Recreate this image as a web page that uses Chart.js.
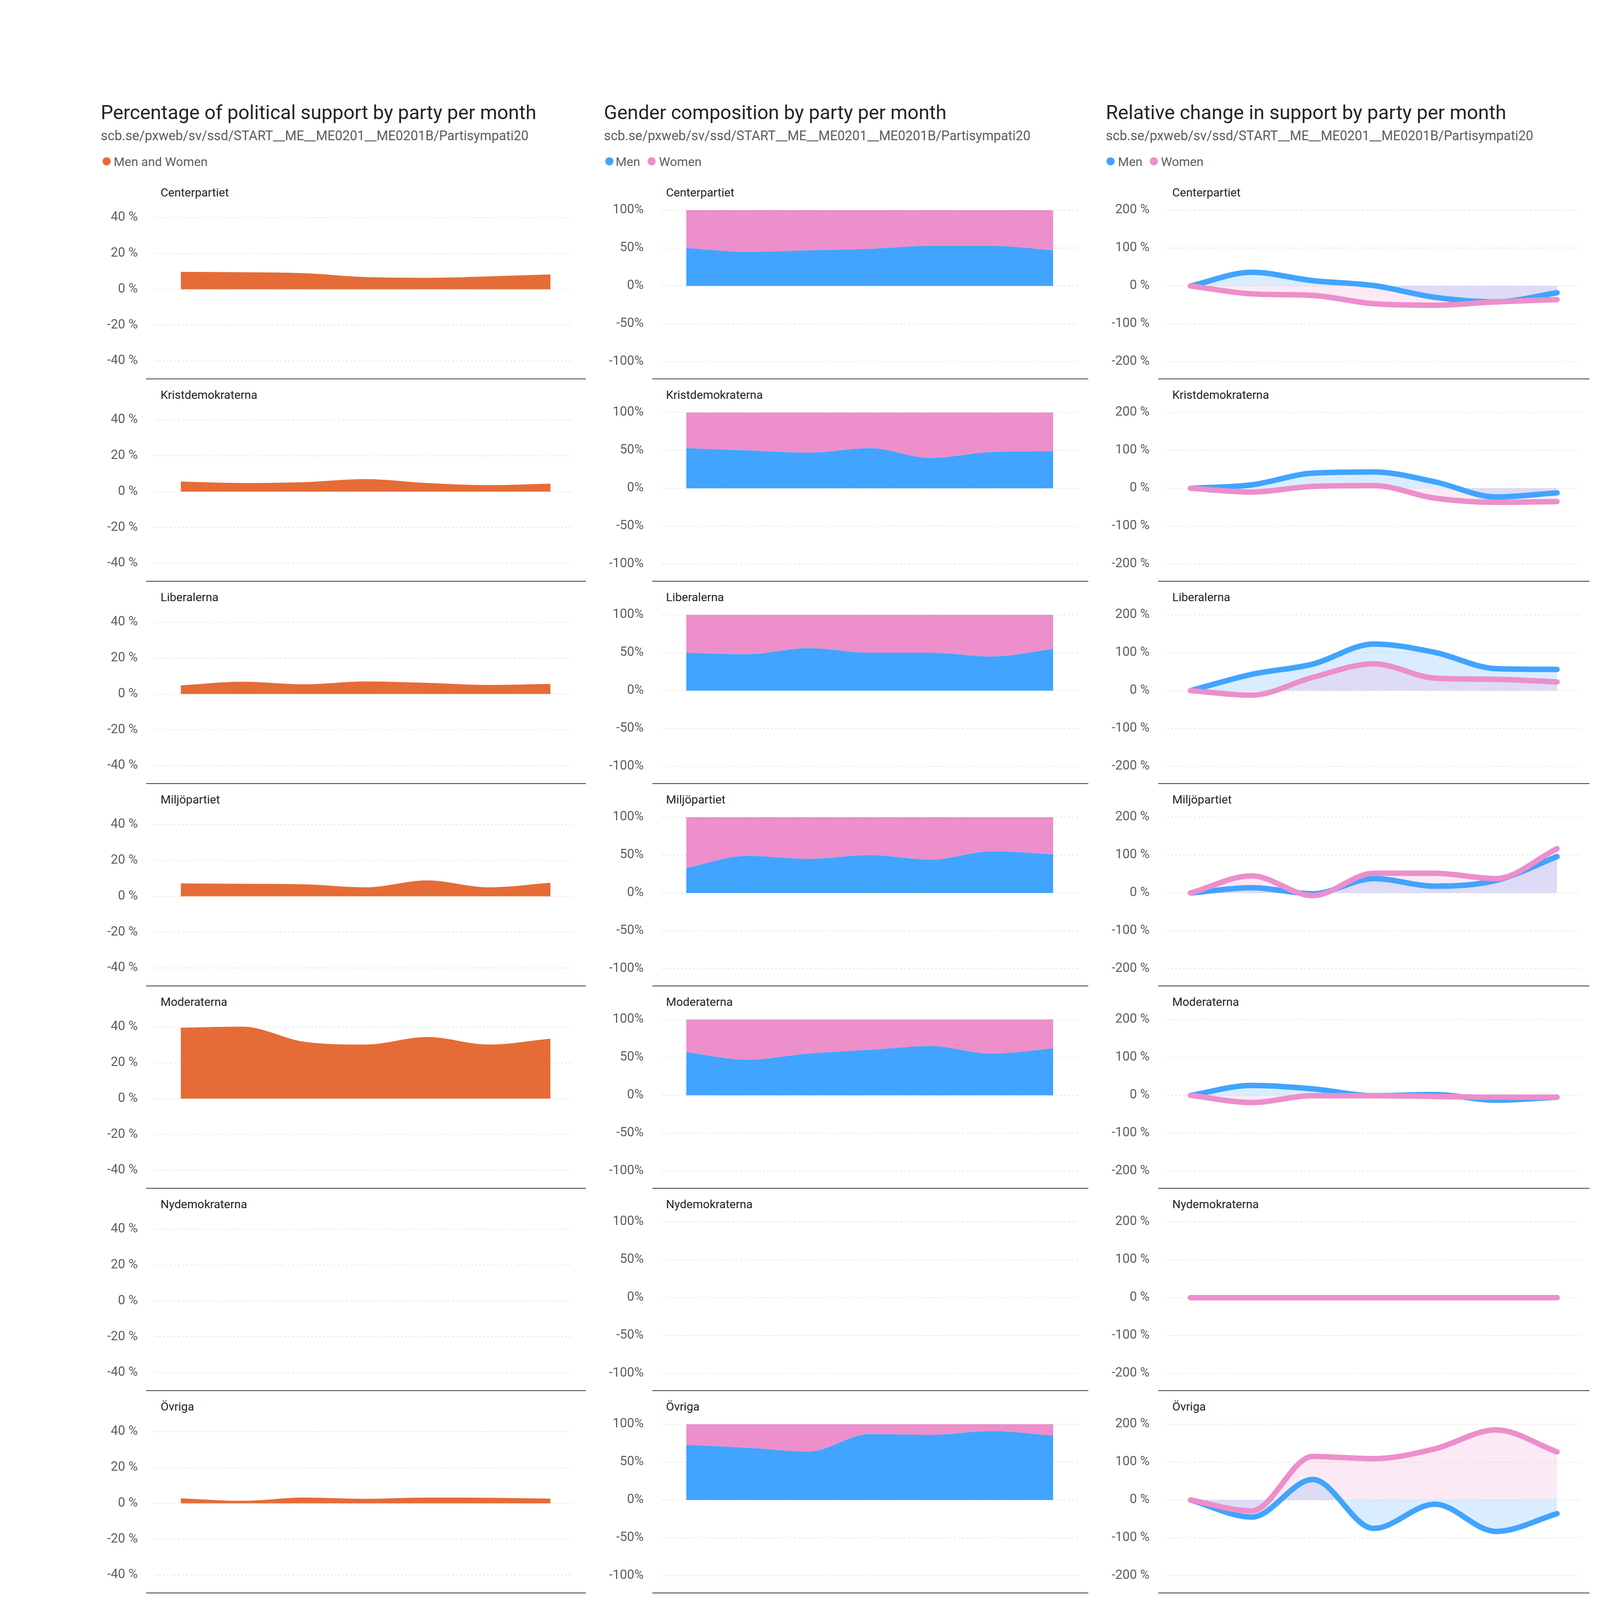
<!DOCTYPE html>
<html><head><meta charset="utf-8">
<script src="https://cdn.jsdelivr.net/npm/chart.js@4.4.1/dist/chart.umd.min.js"></script>
<style>
html,body{margin:0;padding:0;background:#fff;}
body{width:4328px;height:6081px;position:relative;overflow:hidden;font-family:Roboto,sans-serif;}
canvas{position:absolute;}
svg{position:absolute;left:0;top:0;}
</style></head><body>
<svg id="ov" width="4328" height="6081" xmlns="http://www.w3.org/2000/svg"></svg>
<script>
// ---------- DATA ----------
const months = ['2021-05','2021-11','2022-05','2022-11','2023-05','2024-05','2025-05'];
const parties = ['Centerpartiet','Kristdemokraterna','Liberalerna','Miljöpartiet','Moderaterna','Nydemokraterna','Övriga','Socialdemokraterna','Sverigedemokraterna','Vänsterpartiet'];

const totalC   = [9.7, 9.5, 9.0, 6.8, 6.4, 7.2, 8.3];
const totalKD  = [5.6, 4.8, 5.3, 7.0, 4.8, 3.6, 4.4];
const totalL   = [4.8, 6.8, 5.4, 7.0, 6.2, 5.0, 5.6];
const totalMP  = [7.2, 7.0, 6.7, 5.0, 8.9, 5.0, 7.6];
const totalM   = [39.6, 40.2, 31.8, 30.2, 34.4, 30.2, 33.5];
const totalNyD = [];
const totalOvr = [2.8, 1.4, 3.2, 2.5, 3.2, 3.1, 2.6];
const totalS   = [36.0, 37.8, 39.8, 38.8, 42.8, 38.6, 44.3];
const totalSD  = [8.6, 7.3, 6.9, 8.6, 7.2, 7.8, 6.6];
const totalV   = [9.3, 9.7, 8.6, 9.6, 9.0, 9.4, 10.0];

const menShareC   = [50, 45, 47, 49, 53, 53, 47];
const womenShareC = [50, 55, 53, 51, 47, 47, 53];
const menShareKD   = [53, 50, 47, 53, 40, 48, 49];
const womenShareKD = [47, 50, 53, 47, 60, 52, 51];
const menShareL   = [50, 48, 56, 50, 50, 45, 55];
const womenShareL = [50, 52, 44, 50, 50, 55, 45];
const menShareMP   = [33, 49, 45, 50, 44, 55, 51];
const womenShareMP = [67, 51, 55, 50, 56, 45, 49];
const menShareM   = [57, 47, 55, 60, 65, 55, 62];
const womenShareM = [43, 53, 45, 40, 35, 45, 38];
const menShareNyD   = [];
const womenShareNyD = [];
const menShareOvr   = [73, 69, 64, 87, 86, 91, 85];
const womenShareOvr = [27, 31, 36, 13, 14, 9, 15];
const menShareS   = [45.5, 44, 44, 42, 45.5, 48, 47];
const womenShareS = [54.5, 56, 56, 58, 54.5, 52, 53];
const menShareSD   = [79, 78, 80.5, 83, 87, 86, 90];
const womenShareSD = [21, 22, 19.5, 17, 13, 14, 10];
const menShareV   = [53, 48, 48, 49, 49, 49, 41];
const womenShareV = [47, 52, 52, 51, 51, 51, 59];

const menChangeC   = [0, 36, 14, 1, -30, -42, -18];
const womenChangeC = [0, -21, -25, -47, -51, -42, -36];
const menChangeKD   = [0, 9, 40, 43, 17, -23, -12];
const womenChangeKD = [0, -10, 5, 7, -26, -37, -35];
const menChangeL   = [0, 43, 70, 123, 101, 58, 56];
const womenChangeL = [0, -12, 35, 71, 33, 30, 23];
const menChangeMP   = [0, 14, -2, 38, 18, 33, 96];
const womenChangeMP = [0, 45, -7, 52, 52, 38, 117];
const menChangeM   = [0, 26, 17, -1, 2, -13, -5];
const womenChangeM = [0, -19, -1, -1, -3, -5, -5];
const menChangeNyD   = [0, 0, 0, 0, 0, 0, 0];
const womenChangeNyD = [0, 0, 0, 0, 0, 0, 0];
const menChangeOvr   = [0, -45, 54, -75, -11, -83, -36];
const womenChangeOvr = [0, -29, 115, 109, 135, 185, 127];
const menChangeS   = [0, 28, 42, 41, 54, 13, 50];
const womenChangeS = [0, -8, 13, 15, 31, 20, 24];
const menChangeSD   = [0, 19, 13, 58, 45, 29, 50];
const womenChangeSD = [0, -16, -8, -10, -8, -3, -13];
const menChangeV   = [0, 37, 13, 6, 24, -2, 16];
const womenChangeV = [0, 8, 5, 10, -13, -5, -8];

const ticksSupport = [-40, -20, 0, 20, 40];
const ticksShare   = [-100, -50, 0, 50, 100];
const ticksChange  = [-200, -100, 0, 100, 200];

const totals = [totalC,totalKD,totalL,totalMP,totalM,totalNyD,totalOvr,totalS,totalSD,totalV];
const menShares = [menShareC,menShareKD,menShareL,menShareMP,menShareM,menShareNyD,menShareOvr,menShareS,menShareSD,menShareV];
const womenShares = [womenShareC,womenShareKD,womenShareL,womenShareMP,womenShareM,womenShareNyD,womenShareOvr,womenShareS,womenShareSD,womenShareV];
const menChanges = [menChangeC,menChangeKD,menChangeL,menChangeMP,menChangeM,menChangeNyD,menChangeOvr,menChangeS,menChangeSD,menChangeV];
const womenChanges = [womenChangeC,womenChangeKD,womenChangeL,womenChangeMP,womenChangeM,womenChangeNyD,womenChangeOvr,womenChangeS,womenChangeSD,womenChangeV];

// ---------- STYLE / LAYOUT ----------
const ORANGE = '#E66C37', BLUE = '#41A4FF', PINK = '#EC8FCB';
const GRAY = '#605E5C', DARK = '#252423';
const FONT = 'Roboto, "Open Sans", sans-serif';
const PANEL0 = 452, PITCH = 518;

// top/bottom: pixel offsets (from panel top) of the axis max / min
const COLS = [
  {L:250,  areaL:398,  areaR:1463, xmin:-0.412, xmax:6.342, ymin:-40, ymax:50, top:59.2, bottom:472, ticks:ticksSupport, fmt:v=>v+' %', tickRight:353,
   title:'Percentage of political support by party per month', titleX:258, titleLen:1115, subLen:1095, sepL:374, sepR:1500, labelX:411},
  {L:1540, areaL:1695, areaR:2759, xmin:-0.396, xmax:6.403, ymin:-100, ymax:100, top:86, bottom:474, ticks:ticksShare, fmt:v=>v+'%', tickRight:1648,
   title:'Gender composition by party per month', titleX:1546, titleLen:877, subLen:1092, sepL:1670, sepR:2786, labelX:1705},
  {L:2835, areaL:2989, areaR:4044, xmin:-0.377, xmax:6.371, ymin:-200, ymax:200, top:86, bottom:474, ticks:ticksChange, fmt:v=>v+' %', tickRight:2943,
   title:'Relative change in support by party per month', titleX:2831, titleLen:1025, subLen:1094, sepL:2965, sepR:4069, labelX:3001},
];
const SUB = 'scb.se/pxweb/sv/ssd/START__ME__ME0201__ME0201B/Partisympati20';

// ---------- SVG TEXT ----------
const NS = 'http://www.w3.org/2000/svg';
const svg = document.getElementById('ov');
function txt(x, y, s, size, color, len) {
  const t = document.createElementNS(NS, 'text');
  t.setAttribute('x', x); t.setAttribute('y', y);
  t.setAttribute('font-size', size); t.setAttribute('fill', color);
  t.setAttribute('font-family', FONT);
  if (len) { t.setAttribute('textLength', len); t.setAttribute('lengthAdjust', 'spacingAndGlyphs'); }
  t.textContent = s; svg.appendChild(t);
}
function dot(cx, cy, color) {
  const c = document.createElementNS(NS, 'circle');
  c.setAttribute('cx', cx); c.setAttribute('cy', cy); c.setAttribute('r', 10.5); c.setAttribute('fill', color);
  svg.appendChild(c);
}
function rect(x, y, w, h, color) {
  const r = document.createElementNS(NS, 'rect');
  r.setAttribute('x', x); r.setAttribute('y', y); r.setAttribute('width', w); r.setAttribute('height', h); r.setAttribute('fill', color);
  svg.appendChild(r);
}

COLS.forEach((c) => {
  txt(c.titleX, 305, c.title, 50, DARK, c.titleLen);
  txt(c.titleX, 359, SUB, 35, GRAY, c.subLen);
  for (let i = 0; i < parties.length; i++) {
    const T = PANEL0 + PITCH * i;
    txt(c.labelX, T + 51, parties[i], 30, DARK);
    if (i < parties.length - 1) rect(c.sepL, T + PITCH - 1, c.sepR - c.sepL, 2, '#3B3A39');
  }
});
dot(273, 413, ORANGE); txt(291, 425, 'Men and Women', 32, GRAY);
dot(1560, 413, BLUE); txt(1576, 425, 'Men', 32, GRAY);
dot(1668, 413, PINK); txt(1687, 425, 'Women', 32, GRAY);
dot(2843, 413, BLUE); txt(2862, 425, 'Men', 32, GRAY);
dot(2954, 413, PINK); txt(2972, 425, 'Women', 32, GRAY);
rect(4264, 40, 4, 84, '#dcdcdc');

// ---------- CHARTS ----------
const pts = arr => arr.map((v, i) => ({x: i, y: v}));
const CANVAS_OFF = 20;

function makeChart(ci, row, datasets, stacked) {
  const c = COLS[ci];
  const T = PANEL0 + PITCH * row;
  const last = row === parties.length - 1;
  const xh = last ? 230 : 0;
  const top = T + CANVAS_OFF;
  const W = c.areaR - c.L + 10;
  const H = Math.round((c.bottom - CANVAS_OFF) + 10 + xh);
  const cv = document.createElement('canvas');
  cv.width = W; cv.height = H;
  cv.style.left = c.L + 'px'; cv.style.top = top + 'px';
  cv.style.width = W + 'px'; cv.style.height = H + 'px';
  document.body.appendChild(cv);
  const tv = c.ticks;
  new Chart(cv, {
    type: 'line',
    data: { datasets },
    options: {
      responsive: false, animation: false, devicePixelRatio: 1,
      layout: { padding: { top: c.top - CANVAS_OFF, bottom: H - xh - (c.bottom - CANVAS_OFF), left: 0, right: 10 } },
      plugins: { legend: { display: false }, tooltip: { enabled: false },
                 filler: { drawTime: 'beforeDatasetsDraw', propagate: false } },
      elements: { point: { radius: 0 }, line: { cubicInterpolationMode: 'monotone' } },
      scales: {
        x: {
          type: 'linear', min: c.xmin, max: c.xmax, display: last,
          grid: { display: false }, border: { display: false },
          ticks: { stepSize: 1, includeBounds: false, autoSkip: false, maxRotation: 90, minRotation: 90,
                   padding: 66, color: GRAY, font: { family: FONT, size: 35 },
                   callback: v => months[v] !== undefined ? months[v] : '' },
          afterFit: s => { s.height = xh; s.paddingLeft = 0; s.paddingRight = 0; }
        },
        y: {
          min: c.ymin, max: c.ymax, stacked: !!stacked,
          afterBuildTicks: s => { s.ticks = tv.map(v => ({ value: v })); },
          grid: { color: '#C8C6C4', lineWidth: 2, drawTicks: false },
          border: { display: false, dash: [2, 8] },
          ticks: { padding: c.areaL - c.tickRight, color: GRAY, font: { family: FONT, size: 33 },
                   callback: v => c.fmt(v) },
          afterFit: s => { s.width = c.areaL - c.L; s.paddingTop = 0; s.paddingBottom = 0; }
        }
      }
    }
  });
}

for (let i = 0; i < parties.length; i++) {
  makeChart(0, i, [{ data: pts(totals[i]), fill: 'origin', backgroundColor: ORANGE, borderWidth: 0, borderColor: ORANGE }]);
  makeChart(1, i, [
    { data: pts(menShares[i]), fill: 'origin', backgroundColor: BLUE, borderWidth: 0, borderColor: BLUE },
    { data: pts(womenShares[i]), fill: '-1', backgroundColor: PINK, borderWidth: 0, borderColor: PINK }
  ], true);
  makeChart(2, i, [
    { data: pts(womenChanges[i]), fill: 'origin', backgroundColor: 'rgba(236,143,203,0.2)', borderColor: PINK,
      borderWidth: 14, borderCapStyle: 'round', borderJoinStyle: 'round' },
    { data: pts(menChanges[i]), fill: 'origin', backgroundColor: 'rgba(65,164,255,0.2)', borderColor: BLUE,
      borderWidth: 14, borderCapStyle: 'round', borderJoinStyle: 'round' }
  ]);
}
</script>
</body></html>
